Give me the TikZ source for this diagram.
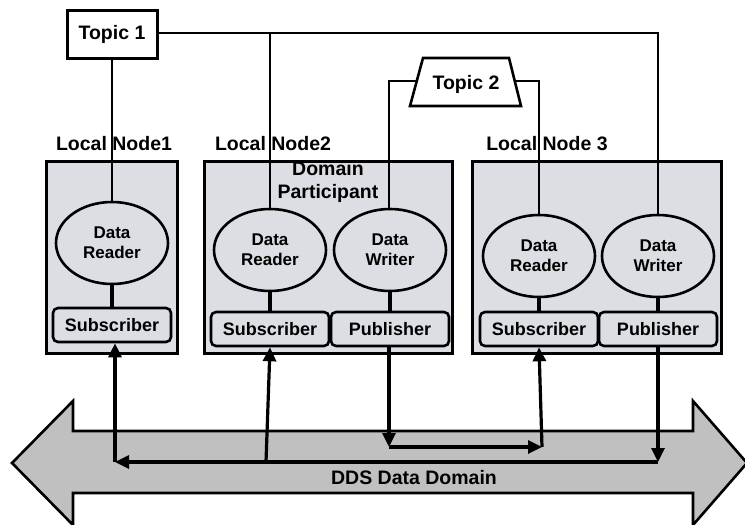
\documentclass[tikz,border=0pt]{standalone}
\usepackage{fontspec}
\setmainfont{Liberation Sans}
\usetikzlibrary{shapes.geometric,arrows.meta}

\definecolor{boxgray}{RGB}{220,222,227}
\definecolor{busgray}{RGB}{192,192,192}

\begin{document}
\begin{tikzpicture}[x=1pt,y=-1pt,
  big/.style={font=\bfseries\fontsize{19.5}{22}\selectfont, inner sep=0pt},
  nodebox/.style={draw, line width=3pt, fill=boxgray},
  entity/.style={ellipse, draw, line width=2.6pt, fill=boxgray,
    minimum width=112pt, minimum height=82pt, inner sep=0pt, align=center,
    font=\bfseries\fontsize{17}{20}\selectfont},
  role/.style={draw, line width=2.6pt, rounded corners=5pt, fill=boxgray,
    minimum width=118pt, minimum height=34pt, inner sep=0pt,
    font=\bfseries\fontsize{18}{20}\selectfont},
  topicline/.style={line width=1.6pt},
  stemline/.style={line width=3.4pt},
  arr/.style={line width=3.2pt, -{Triangle[length=14pt,width=13pt]}}]

\useasboundingbox (0,0) rectangle (745,525);

% DDS data domain: double-headed bus arrow
\begin{scope}
\clip (0,0) rectangle (745,525);
\draw[line width=2.6pt, fill=busgray, line join=miter]
  (12,463) -- (73,401) -- (73,431) -- (693,431) -- (693,401) -- (747,463)
  -- (693,525) -- (693,493) -- (73,493) -- (73,525) -- cycle;
\end{scope}
\node[big] (dds) at (414,478) {DDS Data Domain};

% local nodes
\draw[nodebox] (46,161) rectangle (177,353);
\draw[nodebox] (204,161) rectangle (452,353);
\draw[nodebox] (472,161) rectangle (721,353);
\node[big] (ln1) at (114,144) {Local Node1};
\node[big] (ln2) at (273,144) {Local Node2};
\node[big] (ln3) at (547,144) {Local Node 3};
\node[big, align=center, font=\bfseries\fontsize{19.5}{23}\selectfont] (dp) at (328,182) {Domain\\Participant};

% topics
\node[draw, line width=3pt, fill=white, minimum width=90pt, minimum height=48pt,
  inner sep=0pt, font=\bfseries\fontsize{19.5}{22}\selectfont] (t1) at (112,34) {Topic 1};
\draw[line width=2.6pt, fill=white, line join=miter]
  (423,58) -- (509,58) -- (521,106) -- (410,106) -- cycle;
\node[big] (t2) at (466,84) {Topic 2};

% entities
\node[entity] (dr1) at (112,243) {Data\\Reader};
\node[entity] (dr2) at (270,250) {Data\\Reader};
\node[entity] (dw2) at (390,250) {Data\\Writer};
\node[entity] (dr3) at (539,256) {Data\\Reader};
\node[entity] (dw3) at (658,256) {Data\\Writer};

\node[role] (sub1) at (112,325) {Subscriber};
\node[role] (sub2) at (270,329) {Subscriber};
\node[role] (pub2) at (390,329) {Publisher};
\node[role] (sub3) at (539,329) {Subscriber};
\node[role] (pub3) at (658,329) {Publisher};

\draw[stemline] (dr1) -- (sub1);
\draw[stemline] (dr2) -- (sub2);
\draw[stemline] (dw2) -- (pub2);
\draw[stemline] (dr3) -- (sub3);
\draw[stemline] (dw3) -- (pub3);

% topic links
\coordinate (j1) at (658,33);
\coordinate (j2) at (270,33);
\coordinate (t2l) at (417,81);
\coordinate (t2r) at (516,81);
\coordinate (k1) at (389,81);
\coordinate (k2) at (539,81);
\draw[topicline] (t1.south) -- (dr1.north);
\draw[topicline] (t1.east |- j1) -- (j1) -- (dw3.north);
\draw[topicline] (j2) -- (dr2.north);
\draw[topicline] (t2l) -- (k1) -- (k1 |- dw2.north);
\draw[topicline] (t2r) -- (k2) -- (dr3.north);

% data flow over the bus
\coordinate (busR) at (658,462);
\coordinate (busL) at (115,462);
\coordinate (bus2) at (266,462);
\coordinate (pubA) at (389,447);
\coordinate (pubB) at (542,447);
\draw[arr] (pub3.south) -- (busR);
\draw[arr] (busR) -- (busL);
\draw[arr] (busL) -- (busL |- sub1.south);
\draw[arr] (bus2) -- (sub2.south);
\draw[arr] (pubA |- pub2.south) -- (pubA);
\draw[arr] (pubA) -- (pubB);
\draw[arr] (pubB) -- (sub3.south);

\end{tikzpicture}
\end{document}
